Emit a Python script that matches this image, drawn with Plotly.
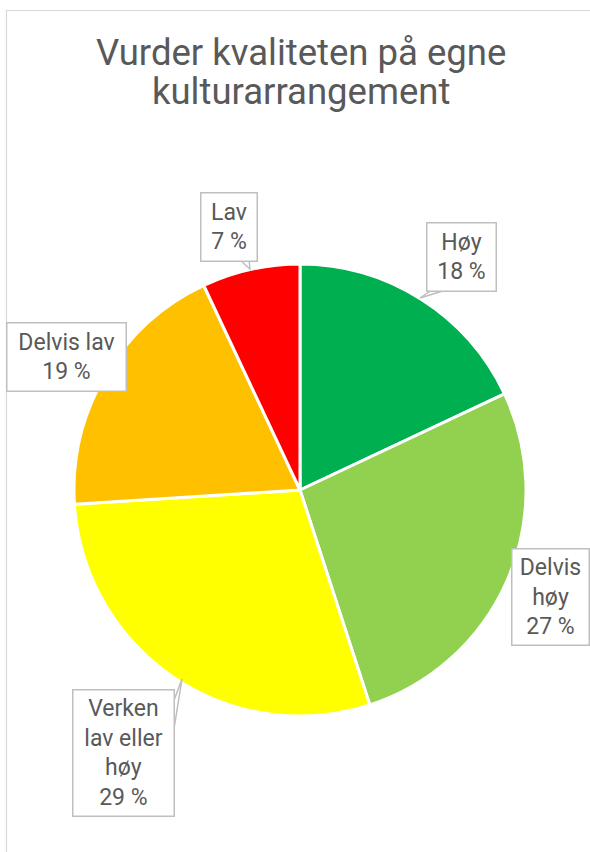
import plotly.graph_objects as go

W, H = 590, 852

# ---- data ----
labels = ["Høy", "Delvis høy", "Verken lav eller høy", "Delvis lav", "Lav"]
label_lines = [["Høy"], ["Delvis", "høy"], ["Verken", "lav eller", "høy"], ["Delvis lav"], ["Lav"]]
values = [18, 27, 29, 19, 7]
colors = ["#00B050", "#92D050", "#FFFF00", "#FFC000", "#FF0000"]
title_lines = ["Vurder kvaliteten på egne", "kulturarrangement"]

# ---- layout helpers (pixel -> paper) ----
def px(x):
    return x / W

def py(y):
    return 1 - y / H

# callout boxes: (left, top, right, bottom) in pixels
boxes = [
    (427, 223, 495, 290),
    (512, 549, 588, 644),
    (73, 690, 173, 815),
    (7, 323, 125, 390),
    (201, 193, 256, 260),
]
# pointer wedges: base point a, apex, base point b
pointers = [
    ((432, 290), (420, 298), (446, 290)),
    None,
    ((173, 703), (182, 679), (173, 735)),
    None,
    ((240, 260), (250, 269), (249, 260)),
]
title_centers = [53, 91]

GRAY_TXT = "#595959"
GRAY_LINE = "#BFBFBF"
FONT = "Roboto"

fig = go.Figure(go.Pie(
    labels=labels,
    values=values,
    marker=dict(colors=colors, line=dict(color="white", width=3)),
    sort=False,
    direction="clockwise",
    rotation=0,
    textinfo="none",
    hoverinfo="label+percent",
    showlegend=False,
    domain=dict(x=[px(74), px(526)], y=[py(716), py(264)]),
))

shapes = [
    dict(type="line", xref="paper", yref="paper", x0=px(6), x1=px(W), y0=py(10.5), y1=py(10.5),
         line=dict(color="#D9D9D9", width=1.2)),
    dict(type="line", xref="paper", yref="paper", x0=px(6.5), x1=px(6.5), y0=py(10), y1=py(H),
         line=dict(color="#D9D9D9", width=1.2)),
]
annotations = []

for i, (lbl, v) in enumerate(zip(label_lines, values)):
    l, t, r, b = boxes[i]
    lines = lbl + [f"{v} %"]
    annotations.append(dict(
        x=px((l + r) / 2), y=py((t + b) / 2), xref="paper", yref="paper",
        text="<br>".join(lines), showarrow=False,
        width=r - l, height=b - t, borderpad=0,
        bgcolor="white", bordercolor=GRAY_LINE, borderwidth=1.5,
        font=dict(family=FONT, size=23, color=GRAY_TXT),
        xanchor="center", yanchor="middle", align="center", valign="middle",
    ))
    p = pointers[i]
    if p:
        a, apex, c = p
        path = f"M {px(a[0])},{py(a[1])} L {px(apex[0])},{py(apex[1])} L {px(c[0])},{py(c[1])} Z"
        shapes.append(dict(type="path", xref="paper", yref="paper", path=path,
                           fillcolor="white", line=dict(color=GRAY_LINE, width=1.5)))

for line, cy in zip(title_lines, title_centers):
    annotations.append(dict(
        x=px(301), y=py(cy), xref="paper", yref="paper",
        text=line, showarrow=False,
        font=dict(family=FONT, size=36.5, color=GRAY_TXT),
        xanchor="center", yanchor="middle", align="center",
    ))

fig.update_layout(
    width=W, height=H,
    margin=dict(l=0, r=0, t=0, b=0),
    paper_bgcolor="white", plot_bgcolor="white",
    shapes=shapes, annotations=annotations,
)

fig.write_html(
    "out.html",
    config={"displayModeBar": False},
    post_script="document.body.style.margin='0';document.body.style.overflow='hidden';",
)
